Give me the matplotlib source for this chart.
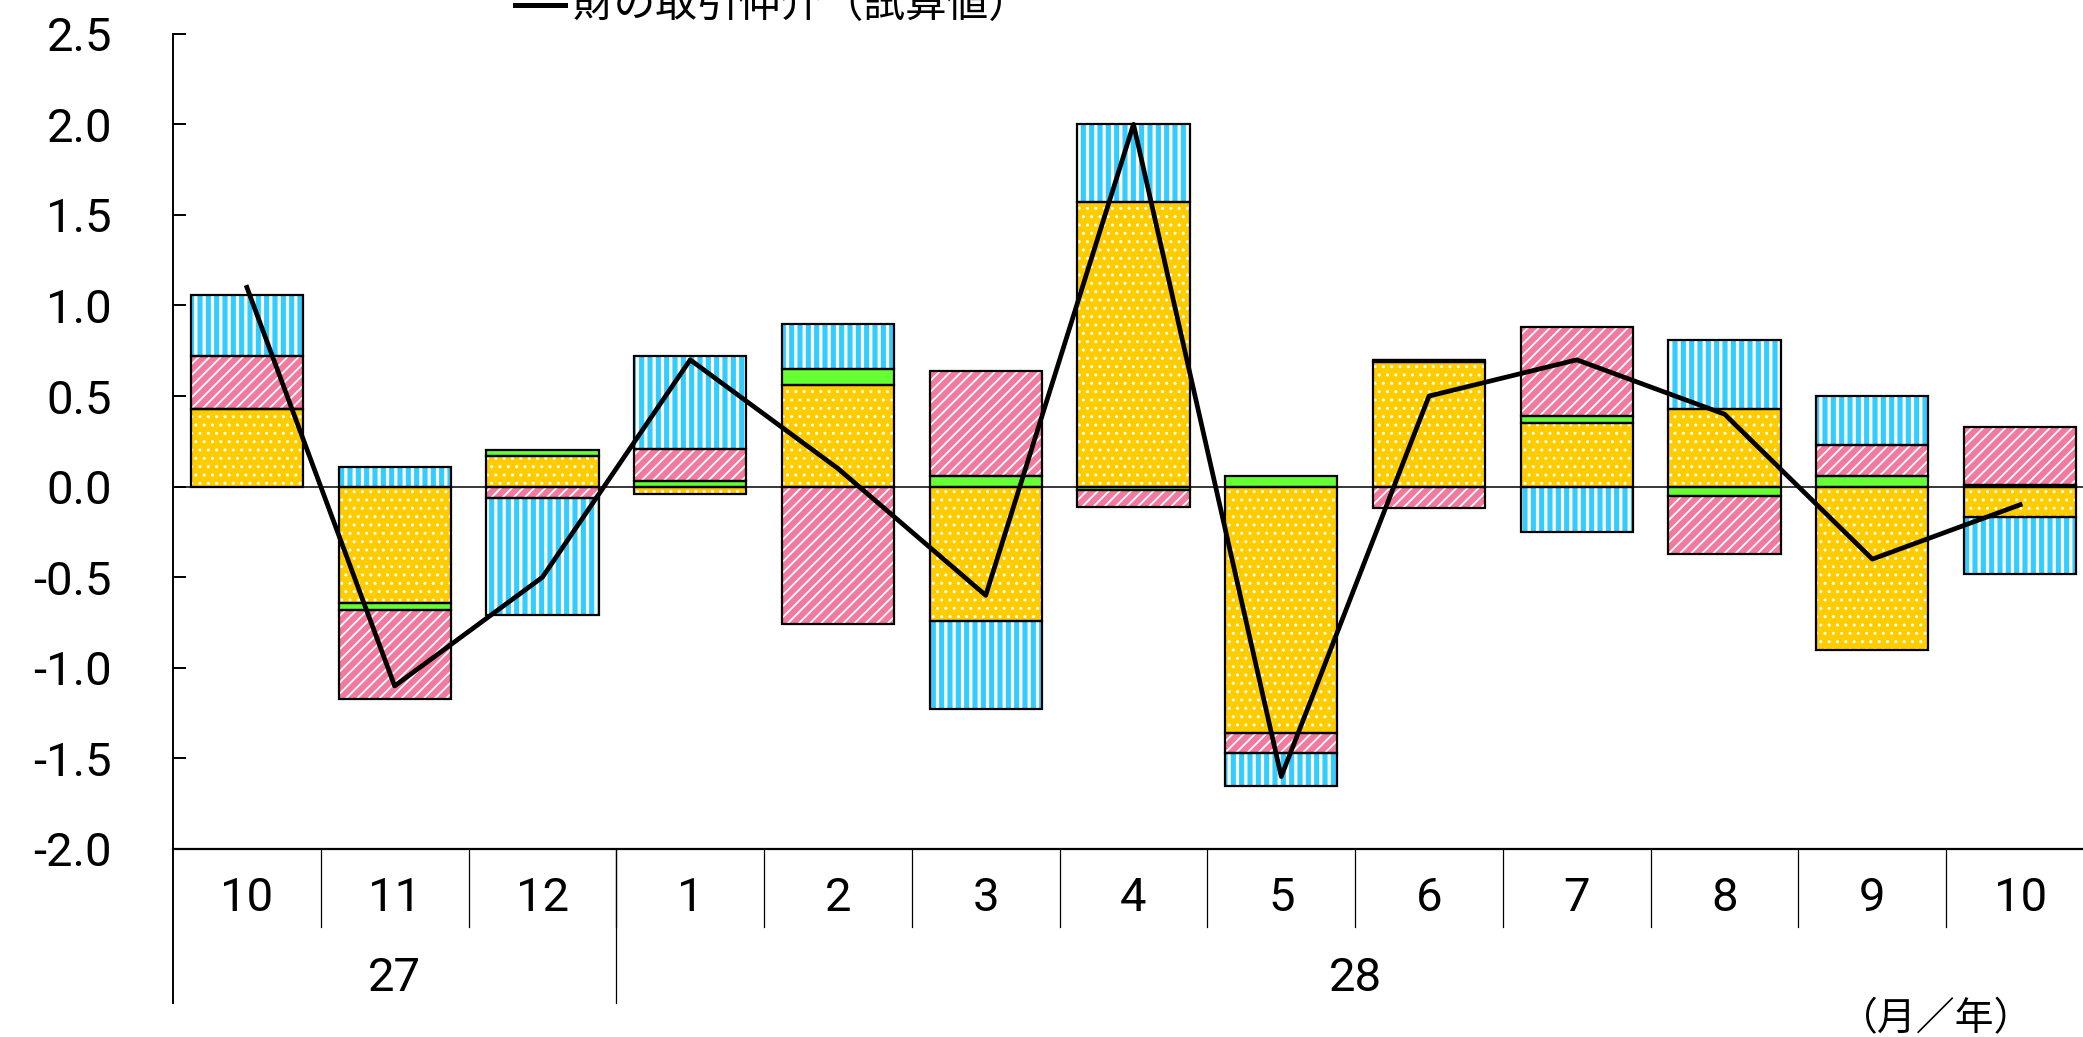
import numpy as np
import matplotlib
matplotlib.use('Agg')
import matplotlib.pyplot as plt
import matplotlib.transforms as mtransforms
from matplotlib import font_manager
from matplotlib.lines import Line2D

# month / year labels
months = ['10', '11', '12', '1', '2', '3', '4', '5', '6', '7', '8', '9', '10']
years = ['27', '28']
year_spans = [(0, 3), (3, 13)]

# contributions (stacked in this order: orange, green, pink, blue)
orange = [0.43, -0.64, 0.17, -0.04, 0.56, -0.74, 1.57, -1.36, 0.69, 0.35, 0.43, -0.90, -0.17]
green = [0.00, -0.04, 0.03, 0.03, 0.09, 0.06, -0.02, 0.06, 0.01, 0.04, -0.05, 0.06, 0.01]
pink = [0.29, -0.49, -0.06, 0.18, -0.76, 0.58, -0.09, -0.11, -0.12, 0.49, -0.32, 0.17, 0.32]
blue = [0.34, 0.11, -0.65, 0.51, 0.25, -0.49, 0.43, -0.18, 0.00, -0.25, 0.38, 0.27, -0.31]
# line: 財の取引伸介（試算値）
total = [1.1, -1.1, -0.5, 0.7, 0.1, -0.6, 2.0, -1.6, 0.5, 0.7, 0.4, -0.4, -0.1]

names = {f.name for f in font_manager.fontManager.ttflist}
num_font = next((f for f in ['Liberation Sans Narrow', 'DejaVu Sans Condensed', 'Roboto']
                 if f in names), 'DejaVu Sans')
jp_font = ['Noto Sans CJK JP', 'DejaVu Sans']

W, H = 2083, 1037
fig = plt.figure(figsize=(W / 100, H / 100), dpi=100)
ax = fig.add_axes([173 / W, 1 - 849 / H, (2094 - 173) / W, (849 - 33.7) / H])

x = np.arange(len(months))
width = 0.76
styles = [
    (orange, '#FFCC00', 'white', '..', 1.0),
    (green, '#66FF33', None, '', 0),
    (pink, '#F27A9E', 'white', '///', 1.3),
    (blue, '#33CCFF', 'white', '||', 2.3),
]

pos_base = np.zeros(len(x))
neg_base = np.zeros(len(x))
for vals, fc, hc, hatch, hlw in styles:
    v = np.array(vals)
    base = np.where(v >= 0, pos_base, neg_base)
    ax.bar(x, v, width, bottom=base, color=fc, edgecolor='none', linewidth=0, zorder=2)
    if hatch:
        plt.rcParams['hatch.linewidth'] = hlw
        bars = ax.bar(x, v, width, bottom=base, color='none', edgecolor=hc,
                      hatch=hatch, linewidth=0, zorder=2.1)
        for b in bars:
            if hasattr(b, 'set_hatch_linewidth'):
                b.set_hatch_linewidth(hlw)
    ax.bar(x, v, width, bottom=base, color='none', edgecolor='black',
           linewidth=1.6, zorder=2.2)
    pos_base += np.where(v >= 0, v, 0)
    neg_base += np.where(v < 0, v, 0)

ax.axhline(0, color='black', lw=1.1, zorder=1.5)
ax.plot(x, total, color='black', lw=3.4, zorder=3)

ax.set_xlim(-0.5, len(x) - 0.5)
ax.set_ylim(-2.0, 2.5)
yt = np.arange(-2.0, 2.51, 0.5)
ax.set_yticks(yt)
ax.set_yticklabels([f'{t:.1f}' for t in yt], fontsize=34, family=num_font)
ax.tick_params(axis='y', direction='in', length=9.5, width=1.4, pad=44)
ax.set_xticks([])
for s in ['top', 'right']:
    ax.spines[s].set_visible(False)
ax.spines['left'].set_linewidth(1.4)
ax.spines['bottom'].set_linewidth(1.6)

# category table under the axis
trans = mtransforms.blended_transform_factory(ax.transData, fig.transFigure)
y_axis = 1 - 849 / H
for k in range(1, len(x)):
    ax.add_line(Line2D([k - 0.5, k - 0.5], [y_axis, 1 - 927 / H], transform=trans,
                       color='black', lw=0.9, clip_on=False))
for start, _ in year_spans:
    ax.add_line(Line2D([start - 0.5, start - 0.5], [y_axis, 1 - 1003 / H], transform=trans,
                       color='black', lw=0.9 if start else 1.4, clip_on=False))

for i, m in enumerate(months):
    ax.text(i, 1 - 898 / H, m, transform=trans, fontsize=34, family=num_font,
            ha='center', va='center')
for yl, (a, b) in zip(years, year_spans):
    ax.text((a + b - 1) / 2, 1 - 978 / H, yl, transform=trans, fontsize=34,
            family=num_font, ha='center', va='center')

fig.text(1936 / W, 1 - 1019 / H, '（月／年）', fontsize=28, family=jp_font,
         ha='center', va='center')

# legend entry (cut at the top of the picture, as in the source)
fig.add_artist(Line2D([515 / W, 565 / W], [1 - 5 / H, 1 - 5 / H], transform=fig.transFigure,
                      color='black', lw=3.6))
fig.text(573 / W, 1 - 17 / H, '財の取引伸介（試算値）', fontsize=30, family=jp_font,
         ha='left', va='baseline')

fig.savefig('out.png', dpi=100)
